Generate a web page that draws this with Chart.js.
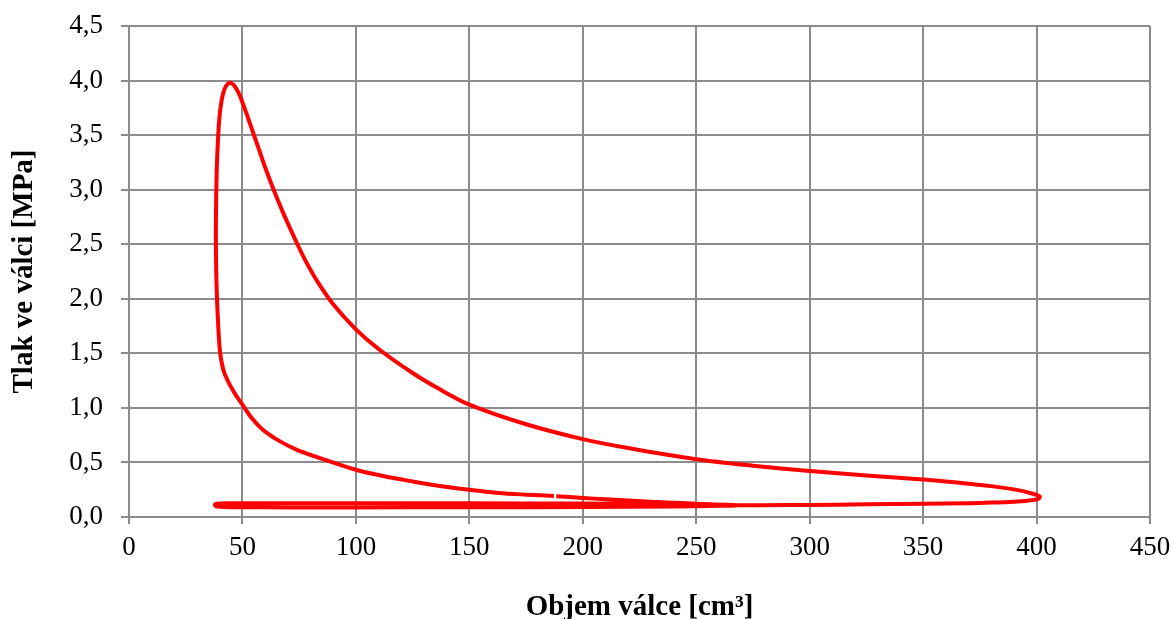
<!DOCTYPE html>
<html>
<head>
<meta charset="utf-8">
<script src="https://cdn.jsdelivr.net/npm/chart.js@4/dist/chart.umd.min.js"></script>
<style>
  html, body { margin: 0; padding: 0; background: #fff; overflow: hidden; }
  #wrap { width: 1174px; height: 619px; position: relative; }
</style>
</head>
<body>
<div id="wrap"><canvas id="c" width="1174" height="619"></canvas></div>
<script>
// Cycle path (volume in cm3, pressure in MPa)
const compressionV = [187.3, 175, 163, 150, 137, 125, 112, 100, 87, 74, 66, 59, 54, 50, 47, 45, 43.3, 42, 41, 40.2, 39.6, 39.1, 38.7, 38.4, 38.3, 38.4, 38.7, 39.2, 39.8, 40.6, 41.6, 42.8, 44.4];
const compressionP = [0.193, 0.205, 0.22, 0.25, 0.285, 0.326, 0.375, 0.433, 0.52, 0.616, 0.70, 0.80, 0.91, 1.03, 1.12, 1.19, 1.26, 1.32, 1.40, 1.50, 1.65, 1.85, 2.05, 2.3, 2.6, 2.9, 3.2, 3.45, 3.65, 3.79, 3.89, 3.95, 3.98];

const expansionV = [45.9, 47.3, 48.7, 50, 52, 54, 56, 58, 60, 62.5, 65, 68, 71, 74, 78, 83, 90, 100, 110, 125, 137, 150, 175, 200, 220, 250, 275, 300, 325, 350, 360, 370, 380, 388, 394, 398, 400.5, 401.5];
const expansionP = [3.965, 3.925, 3.87, 3.80, 3.685, 3.565, 3.445, 3.325, 3.205, 3.065, 2.935, 2.785, 2.645, 2.51, 2.34, 2.16, 1.95, 1.72, 1.54, 1.32, 1.17, 1.03, 0.85, 0.714, 0.632, 0.529, 0.47, 0.422, 0.38, 0.343, 0.325, 0.305, 0.283, 0.26, 0.237, 0.215, 0.198, 0.185];

const gasExchangeV = [401, 399, 395, 388, 380, 370, 350, 325, 300, 280, 265, 250, 230, 200, 150, 100, 60, 45, 40, 38.2, 37.8, 38.5, 42, 50, 70, 100, 150, 200, 240, 260, 268, 262, 250, 237, 222, 210, 200, 188.3];
const gasExchangeP = [0.17, 0.157, 0.147, 0.138, 0.132, 0.127, 0.122, 0.116, 0.111, 0.108, 0.108, 0.113, 0.12, 0.124, 0.125, 0.126, 0.126, 0.125, 0.123, 0.119, 0.110, 0.099, 0.091, 0.089, 0.088, 0.088, 0.089, 0.092, 0.097, 0.102, 0.107, 0.113, 0.122, 0.133, 0.148, 0.162, 0.175, 0.19];

const xTicks = [0, 50, 100, 150, 200, 250, 300, 350, 400, 450];
const yTicks = [0, 0.5, 1.0, 1.5, 2.0, 2.5, 3.0, 3.5, 4.0, 4.5];
const xTitle = 'Objem válce [cm³]';
const yTitle = 'Tlak ve válci [MPa]';

const allV = compressionV.concat(expansionV, gasExchangeV);
const allP = compressionP.concat(expansionP, gasExchangeP);
const points = allV.map((v, i) => ({ x: v, y: allP[i] }));

const serif = "'Liberation Serif', 'Times New Roman', serif";
const gridColor = '#8c8c8c';

new Chart(document.getElementById('c'), {
  type: 'scatter',
  data: {
    datasets: [{
      data: points,
      showLine: true,
      borderColor: '#ff0000',
      borderWidth: 4,
      borderCapStyle: 'butt',
      borderJoinStyle: 'round',
      pointRadius: 0,
      pointHoverRadius: 0,
      tension: 0.3,
      fill: false
    }]
  },
  options: {
    responsive: false,
    animation: false,
    devicePixelRatio: 1,
    layout: { padding: { top: 26, right: 24, left: 0, bottom: 0 } },
    plugins: { legend: { display: false }, tooltip: { enabled: false } },
    scales: {
      x: {
        type: 'linear',
        min: xTicks[0],
        max: xTicks[xTicks.length - 1],
        afterBuildTicks: s => { s.ticks = xTicks.map(v => ({ value: v })); },
        afterFit: s => { s.height = 102; s.paddingLeft = 0; s.paddingRight = 0; },
        grid: { color: gridColor, lineWidth: 2, tickLength: 7, drawTicks: true },
        border: { color: gridColor, width: 2 },
        ticks: {
          color: '#000',
          font: { family: serif, size: 27 },
          padding: 8,
          maxRotation: 0,
          callback: v => String(v)
        },
        title: {
          display: true,
          text: xTitle,
          color: '#000',
          font: { family: serif, size: 29, weight: 'bold' },
          padding: { top: 0, bottom: -6 }
        }
      },
      y: {
        type: 'linear',
        min: yTicks[0],
        max: yTicks[yTicks.length - 1],
        afterBuildTicks: s => { s.ticks = yTicks.map(v => ({ value: v })); },
        afterFit: s => { s.width = 129; s.paddingTop = 0; s.paddingBottom = 0; },
        grid: { color: gridColor, lineWidth: 2, tickLength: 8, drawTicks: true },
        border: { color: gridColor, width: 2 },
        ticks: {
          color: '#000',
          font: { family: serif, size: 27 },
          padding: 18,
          callback: v => v.toFixed(1).replace('.', ',')
        },
        title: {
          display: true,
          text: yTitle,
          color: '#000',
          font: { family: serif, size: 29, weight: 'bold' },
          padding: { top: 7, bottom: 0 }
        }
      }
    }
  }
});
</script>
</body>
</html>
